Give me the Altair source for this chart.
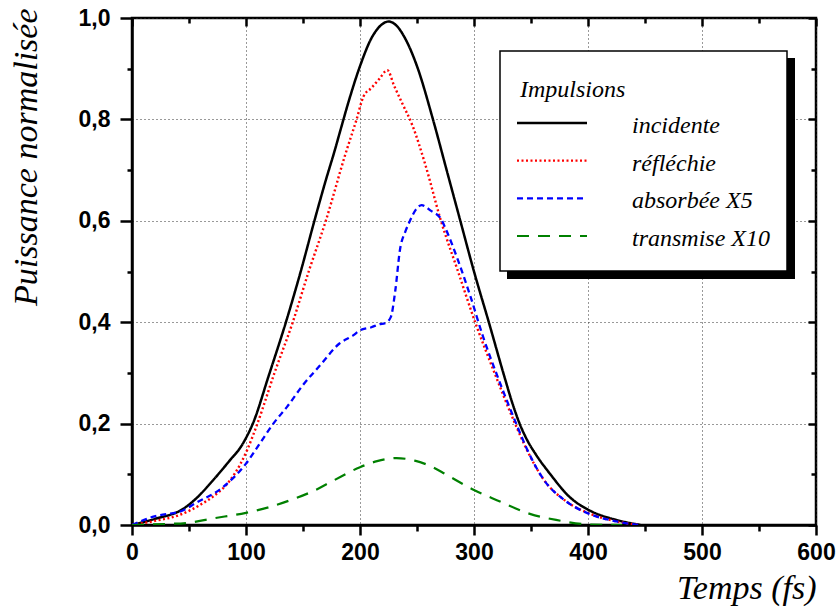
import altair as alt
import pandas as pd

# Pulse power curves (normalised), time in fs
t_inc = [0, 20, 45, 57, 71, 86, 96, 101, 106, 120, 135, 148, 160, 170, 178, 183, 190, 200, 210, 218, 225,
         232, 240, 250, 264, 276, 288, 300, 313, 327, 333, 340, 347, 354, 367, 384, 402, 425, 446]
p_inc = [0, 0.012, 0.032, 0.054, 0.088, 0.128, 0.156, 0.176, 0.2, 0.295, 0.4, 0.5, 0.6, 0.68, 0.74, 0.78, 0.835,
         0.905, 0.96, 0.985, 0.993, 0.985, 0.958, 0.905, 0.8, 0.7, 0.6, 0.5, 0.4, 0.29, 0.245, 0.2, 0.166, 0.14,
         0.1, 0.055, 0.028, 0.01, 0]

t_ref = [0, 20, 42, 60, 71, 86, 95, 101, 110, 125, 141, 155, 170, 187, 197, 203, 210, 217, 224, 230, 237, 246,
         257, 271, 286, 301, 318, 336, 346, 361, 380, 402, 425, 445]
p_ref = [0, 0.008, 0.02, 0.04, 0.056, 0.088, 0.12, 0.148, 0.2, 0.3, 0.4, 0.5, 0.6, 0.73, 0.8, 0.845, 0.862, 0.88,
         0.897, 0.866, 0.832, 0.788, 0.713, 0.6, 0.5, 0.4, 0.3, 0.2, 0.15, 0.09, 0.048, 0.022, 0.007, 0]

t_abs = [0, 18, 45, 55, 80, 100, 111, 124, 136, 150, 165, 182, 194, 200, 210, 217, 222, 227, 231, 235, 240, 244,
         249, 254, 262, 271, 275, 286, 297, 308, 322, 337, 346, 361, 380, 400, 425, 445]
p_abs = [0, 0.016, 0.029, 0.042, 0.075, 0.121, 0.157, 0.2, 0.233, 0.276, 0.315, 0.358, 0.374, 0.384, 0.39, 0.396,
         0.398, 0.41, 0.463, 0.542, 0.58, 0.601, 0.622, 0.631, 0.62, 0.604, 0.585, 0.522, 0.45, 0.371, 0.285, 0.2,
         0.152, 0.09, 0.048, 0.023, 0.007, 0]

t_tr = [0, 30, 48, 71, 100, 120, 139, 160, 177, 200, 215, 232, 248, 262, 276, 300, 320, 349, 372, 402, 430]
p_tr = [0, 0.002, 0.004, 0.013, 0.024, 0.035, 0.049, 0.068, 0.088, 0.114, 0.126, 0.132, 0.127, 0.116, 0.099,
        0.069, 0.049, 0.022, 0.010, 0.001, 0]

series_names = ["incidente", "réfléchie", "absorbée X5", "transmise X10"]
series_colors = ["#000000", "#ff0000", "#0000ff", "#008000"]
series_dashes = [[1, 0], [2, 2.5], [6, 4], [12, 9]]
series_widths = [2.5, 2.2, 2.4, 2.4]

x_ticks = [0, 50, 100, 150, 200, 250, 300, 350, 400, 450, 500, 550, 600]
y_ticks = [0.0, 0.1, 0.2, 0.3, 0.4, 0.5, 0.6, 0.7, 0.8, 0.9, 1.0]
x_major = [0, 100, 200, 300, 400, 500, 600]
x_minor = [50, 150, 250, 350, 450, 550]
y_major = [0.0, 0.2, 0.4, 0.6, 0.8, 1.0]
y_minor = [0.1, 0.3, 0.5, 0.7, 0.9]

frames = []
for name, ts, ps in zip(series_names, [t_inc, t_ref, t_abs, t_tr], [p_inc, p_ref, p_abs, p_tr]):
    frames.append(pd.DataFrame({"series": name, "t": ts, "p": ps}))
df = pd.concat(frames, ignore_index=True)
legend_df = pd.DataFrame({"series": series_names})
one_row = pd.DataFrame({"k": [0]})

x_scale = alt.Scale(domain=[0, 600], nice=False, zero=False)
y_scale = alt.Scale(domain=[0, 1], nice=False, zero=False)
color_enc = alt.Color("series:N", scale=alt.Scale(domain=series_names, range=series_colors), legend=None)
dash_enc = alt.StrokeDash("series:N", scale=alt.Scale(domain=series_names, range=series_dashes), legend=None)
width_enc = alt.StrokeWidth("series:N", scale=alt.Scale(domain=series_names, range=series_widths), legend=None)

tick_font = "Liberation Sans"
title_font = "Liberation Serif"

x_axis = alt.Axis(
    orient="bottom", values=x_ticks, format="d", labelFlush=False, labelOverlap=False,
    labelExpr="datum.value % 100 === 0 ? datum.label : ''",
    labelFont=tick_font, labelFontWeight="bold", labelFontSize=23, labelColor="black", labelPadding=6,
    tickSize=alt.ExprRef(expr="datum.value % 100 === 0 ? 10 : 6"), tickWidth=2.5, tickColor="black",
    domainColor="black", domainWidth=2.5,
    grid=True, gridDash=[1, 3], gridColor="#333333", gridWidth=1,
    gridOpacity=alt.ExprRef(expr="datum.value % 100 === 0 ? 1 : 0"),
    title="Temps (fs)", titleFont=title_font, titleFontStyle="italic", titleFontWeight="normal",
    titleFontSize=34, titleColor="black", titleX=684, titleY=73, titleAlign="right",
    titleBaseline="alphabetic",
)
y_axis = alt.Axis(
    orient="left", values=y_ticks, labelFlush=False, labelOverlap=False,
    labelExpr="round(datum.value * 10) % 2 === 0 ? replace(format(datum.value, '.1f'), '.', ',') : ''",
    labelFont=tick_font, labelFontWeight="bold", labelFontSize=23, labelColor="black", labelPadding=10,
    tickSize=alt.ExprRef(expr="round(datum.value * 10) % 2 === 0 ? 12 : 5"), tickWidth=2.5, tickColor="black",
    domainColor="black", domainWidth=2.5,
    grid=True, gridDash=[1, 3], gridColor="#333333", gridWidth=1,
    gridOpacity=alt.ExprRef(expr="round(datum.value * 10) % 2 === 0 ? 1 : 0"),
    title="Puissance normalisée", titleFont=title_font, titleFontStyle="italic", titleFontWeight="normal",
    titleFontSize=34, titleColor="black", titleX=-96, titleY=-10, titleAlign="right",
    titleBaseline="alphabetic",
)

lines = alt.Chart(df).mark_line(interpolate="monotone", clip=True).encode(
    x=alt.X("t:Q", scale=x_scale, axis=x_axis),
    y=alt.Y("p:Q", scale=y_scale, axis=y_axis),
    color=color_enc, strokeDash=dash_enc, strokeWidth=width_enc,
    order=alt.Order("t:Q"),
)


def inner_ticks(xvals, yvals, size):
    # ticks along the top and right edges, pointing into the plot
    return alt.Chart(df).mark_point(opacity=0).encode(
        x=alt.X("t:Q", scale=x_scale, axis=alt.Axis(
            orient="top", values=xvals, labels=False, title=None, domain=False, grid=False,
            tickSize=size, tickWidth=2.5, tickColor="black", offset=-size)),
        y=alt.Y("p:Q", scale=y_scale, axis=alt.Axis(
            orient="right", values=yvals, labels=False, title=None, domain=False, grid=False,
            tickSize=size, tickWidth=2.5, tickColor="black", offset=-size)),
    )


major_inner = inner_ticks(x_major, y_major, 8)
minor_inner = inner_ticks(x_minor, y_minor, 5)

# legend panel: shadow, box, title, entries
shadow = alt.Chart(one_row).mark_rect(color="black").encode(
    x=alt.value(375), x2=alt.value(663), y=alt.value(40), y2=alt.value(261))
box = alt.Chart(one_row).mark_rect(fill="white", stroke="black", strokeWidth=1.5).encode(
    x=alt.value(368), x2=alt.value(655), y=alt.value(33), y2=alt.value(253))
leg_title = alt.Chart(one_row).mark_text(
    align="left", baseline="middle", font=title_font, fontStyle="italic", fontSize=24, color="black"
).encode(x=alt.value(388), y=alt.value(72), text=alt.value("Impulsions"))

leg_y = alt.Y("series:N", scale=alt.Scale(type="point", domain=series_names, range=[105, 218], padding=0), axis=None)
leg_lines = alt.Chart(legend_df).mark_rule().encode(
    x=alt.value(385), x2=alt.value(455), y=leg_y,
    color=color_enc, strokeDash=dash_enc, strokeWidth=width_enc)
leg_text = alt.Chart(legend_df).mark_text(
    align="left", baseline="middle", font=title_font, fontStyle="italic", fontSize=24, color="black", dy=3
).encode(x=alt.value(500), y=leg_y, text="series:N")

chart = alt.layer(
    lines, major_inner, minor_inner, shadow, box, leg_title, leg_lines, leg_text
).resolve_axis(x="independent", y="independent").resolve_scale(y="independent").properties(
    width=684, height=507,
    padding={"left": 132, "top": 18, "right": 21, "bottom": 90},
    autosize=alt.AutoSizeParams(type="none"),
    background="white",
).configure_view(stroke="black", strokeWidth=2.5)

chart.save("out.html", embed_options={"renderer": "svg", "actions": False})
